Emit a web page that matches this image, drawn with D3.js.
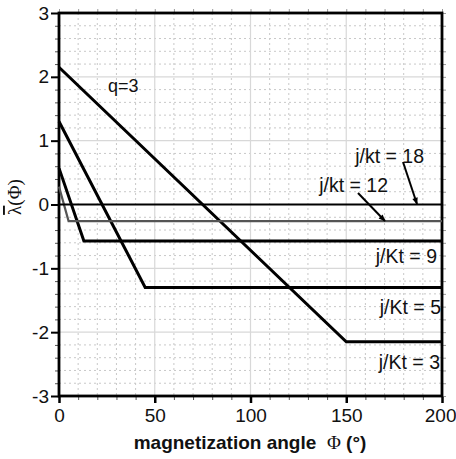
<!DOCTYPE html>
<html>
<head>
<meta charset="utf-8">
<script src="https://cdn.jsdelivr.net/npm/d3@7"></script>
<style>
  html, body { margin: 0; padding: 0; background: #fff; }
  svg { display: block; font-family: "Liberation Sans", Arial, sans-serif; }
</style>
</head>
<body>
<svg id="chart" width="456" height="459"></svg>
<script>
// Normalized lambda vs. magnetization angle, q = 3
const curveLabels   = ["j/Kt = 3", "j/Kt = 5", "j/Kt = 9", "j/kt = 12", "j/kt = 18"];
const startValues   = [2.15, 1.3, 0.57, 0.28, 0];      // lambda at phi = 0
const kneeAngles    = [150, 45, 13, 5, 0];              // angle where plateau begins
const plateauValues = [-2.15, -1.3, -0.57, -0.26, 0];   // plateau level
const phiMax = 200;
const xTicks = [0, 50, 100, 150, 200];
const yTicks = [-3, -2, -1, 0, 1, 2, 3];

const svg = d3.select("#chart");
const plotL = 59, plotR = 442, plotT = 13, plotB = 396;

const x = d3.scaleLinear().domain([0, 200]).range([plotL, plotR]);
const y = d3.scaleLinear().domain([-3, 3]).range([plotB, plotT]);
const fmt = d => String(d);   // plain hyphen-minus labels

// grid: dotted minor lines, solid light major lines
const g = svg.append("g");
d3.range(10, 200, 10).filter(v => v % 50 !== 0).forEach(v => {
  g.append("line").attr("x1", x(v)).attr("x2", x(v)).attr("y1", plotT).attr("y2", plotB)
    .attr("stroke", "#c8c8c8").attr("stroke-width", 1).attr("stroke-dasharray", "2,3");
});
d3.range(-2.8, 3, 0.2).map(v => Math.round(v * 10) / 10).filter(v => Math.abs(v - Math.round(v)) > 1e-6).forEach(v => {
  g.append("line").attr("x1", plotL).attr("x2", plotR).attr("y1", y(v)).attr("y2", y(v))
    .attr("stroke", "#c8c8c8").attr("stroke-width", 1).attr("stroke-dasharray", "2,3");
});
[50, 100, 150].forEach(v => {
  g.append("line").attr("x1", x(v)).attr("x2", x(v)).attr("y1", plotT).attr("y2", plotB)
    .attr("stroke", "#d8d8d8").attr("stroke-width", 1.2);
});
[-2, -1, 0, 1, 2].forEach(v => {
  g.append("line").attr("x1", plotL).attr("x2", plotR).attr("y1", y(v)).attr("y2", y(v))
    .attr("stroke", "#d8d8d8").attr("stroke-width", 1.2);
});

// axes with major / minor ticks
const minorX = d3.range(0, 201, 10);
const minorY = d3.range(-3, 3.01, 0.2).map(v => Math.round(v * 10) / 10);

svg.append("g").attr("transform", `translate(0,${plotB})`)
  .call(d3.axisBottom(x).tickValues(minorX).tickSize(4).tickFormat(""))
  .call(a => a.select(".domain").remove())
  .call(a => a.selectAll("line").attr("stroke", "#555"));
svg.append("g").attr("transform", `translate(0,${plotB})`)
  .call(d3.axisBottom(x).tickValues(xTicks).tickSize(7).tickPadding(6).tickFormat(fmt))
  .call(a => a.select(".domain").remove())
  .call(a => a.selectAll("line").attr("stroke", "#000").attr("stroke-width", 2.5))
  .call(a => a.selectAll("text").attr("font-size", 19).attr("font-family", "Liberation Sans, Arial, sans-serif").attr("fill", "#111"))
  .call(a => a.selectAll("text").filter(d => d === 200).attr("text-anchor", "end").attr("dx", 14));

svg.append("g").attr("transform", `translate(0,${plotT})`)
  .call(d3.axisTop(x).tickValues(minorX).tickSize(4).tickFormat(""))
  .call(a => a.select(".domain").remove())
  .call(a => a.selectAll("line").attr("stroke", "#999"));

svg.append("g").attr("transform", `translate(${plotL},0)`)
  .call(d3.axisLeft(y).tickValues(minorY).tickSize(4).tickFormat(""))
  .call(a => a.select(".domain").remove())
  .call(a => a.selectAll("line").attr("stroke", "#555"));
svg.append("g").attr("transform", `translate(${plotL},0)`)
  .call(d3.axisLeft(y).tickValues(yTicks).tickSize(8).tickPadding(2).tickFormat(fmt))
  .call(a => a.select(".domain").remove())
  .call(a => a.selectAll("line").attr("stroke", "#000").attr("stroke-width", 2))
  .call(a => a.selectAll("text").attr("font-size", 19).attr("font-family", "Liberation Sans, Arial, sans-serif").attr("fill", "#111"));

svg.append("g").attr("transform", `translate(${plotR},0)`)
  .call(d3.axisRight(y).tickValues(minorY).tickSize(4).tickFormat(""))
  .call(a => a.select(".domain").remove())
  .call(a => a.selectAll("line").attr("stroke", "#999"));

// frame
svg.append("rect").attr("x", plotL).attr("y", plotT).attr("width", plotR - plotL).attr("height", plotB - plotT)
  .attr("fill", "none").attr("stroke", "#000").attr("stroke-width", 2.8);

// curves
const line = d3.line().x(d => x(d[0])).y(d => y(d[1]));
curveLabels.forEach((lab, i) => {
  const pts = [[0, startValues[i]], [kneeAngles[i], plateauValues[i]], [phiMax, plateauValues[i]]];
  const grey = i === 3;
  svg.append("path").datum(pts).attr("d", line)
    .attr("fill", "none")
    .attr("stroke", grey ? "#555" : "#000")
    .attr("stroke-width", i >= 3 ? 2.2 : 3)
    .attr("stroke-linejoin", "miter");
});

// curve labels
const labelPos = [
  { x: 440, y: 369 },
  { x: 441, y: 314 },
  { x: 437, y: 263 },
  { x: 388, y: 192 },
  { x: 424, y: 163 }
];
curveLabels.forEach((lab, i) => {
  svg.append("text").attr("x", labelPos[i].x).attr("y", labelPos[i].y)
    .attr("text-anchor", "end").attr("font-size", 19.5).attr("fill", "#111")
    .text(lab);
});

// arrows pointing at the two near-flat curves
const defs = svg.append("defs");
defs.append("marker").attr("id", "head").attr("viewBox", "0 0 10 10")
  .attr("refX", 9).attr("refY", 5).attr("markerWidth", 8).attr("markerHeight", 7)
  .attr("orient", "auto").attr("markerUnits", "userSpaceOnUse")
  .append("path").attr("d", "M0,1 L10,5 L0,9 Z").attr("fill", "#000");
const arrows = [
  { from: [403, 162], to: [417, 204] },
  { from: [358, 193], to: [385, 221] }
];
arrows.forEach(a => {
  svg.append("line").attr("x1", a.from[0]).attr("y1", a.from[1]).attr("x2", a.to[0]).attr("y2", a.to[1])
    .attr("stroke", "#000").attr("stroke-width", 2).attr("marker-end", "url(#head)");
});

// q annotation
svg.append("text").attr("x", 108).attr("y", 92).attr("font-size", 18).attr("fill", "#111").text("q=3");

// axis titles
const xt = svg.append("text").attr("x", 250).attr("y", 449).attr("text-anchor", "middle")
  .attr("font-size", 19).attr("fill", "#111");
xt.append("tspan").attr("font-weight", "bold").text("magnetization angle \u00a0");
xt.append("tspan").attr("font-family", "Liberation Serif, Times New Roman, serif").text("Φ");
xt.append("tspan").attr("font-weight", "bold").text(" (°)");

const yl = svg.append("text").attr("transform", "translate(21,197) rotate(-90)")
  .attr("text-anchor", "middle").attr("font-size", 19).attr("fill", "#111")
  .attr("font-family", "Liberation Serif, Times New Roman, serif");
yl.append("tspan").style("text-decoration", "overline").text("λ");
yl.append("tspan").text("(Φ)");
</script>
</body>
</html>
